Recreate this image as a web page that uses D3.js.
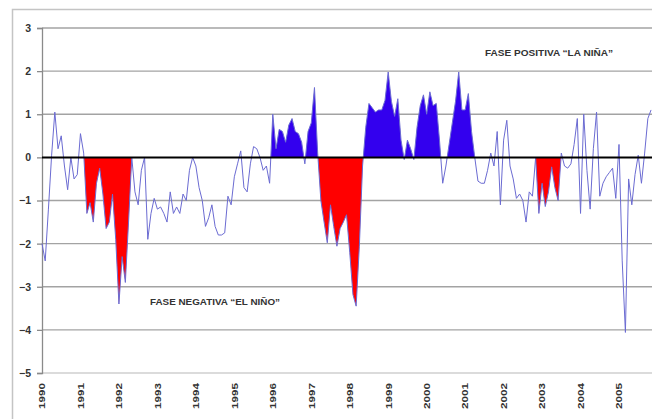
<!DOCTYPE html>
<html>
<head>
<meta charset="utf-8">
<script src="https://cdn.jsdelivr.net/npm/d3@7"></script>
<style>
  html, body { margin: 0; padding: 0; background: #ffffff; }
  svg { display: block; }
</style>
</head>
<body>
<div id="chart"></div>
<script>
// ---- data (monthly index values, Jan 1990 onward) ----
const yearLabels = ["1990","1991","1992","1993","1994","1995","1996","1997","1998","1999","2000","2001","2002","2003","2004","2005"];
const yTicks = [3, 2, 1, 0, -1, -2, -3, -4, -5];
const soi = [
  -2.0,-2.4,-1.2,0.05,1.05,0.2,0.5,-0.2,-0.75,0.0,-0.5,-0.4,
  0.55,0.1,-1.3,-1.05,-1.5,-0.6,-0.25,-0.85,-1.65,-1.5,-0.85,-1.9,
  -3.4,-2.3,-2.9,-1.5,0.0,-0.8,-1.1,-0.3,0.0,-1.9,-1.3,-0.95,
  -1.2,-1.15,-1.3,-1.5,-0.8,-1.3,-1.15,-1.3,-0.85,-1.0,-0.3,0.0,
  -0.2,-0.7,-1.0,-1.6,-1.4,-1.1,-1.6,-1.8,-1.8,-1.75,-0.9,-1.1,
  -0.45,-0.15,0.15,-0.7,-0.8,-0.15,0.25,0.2,0.0,-0.3,-0.2,-0.6,
  1.0,0.2,0.65,0.6,0.35,0.75,0.9,0.6,0.55,0.35,-0.15,0.6,
  0.8,1.62,0.1,-1.0,-1.5,-1.98,-1.1,-1.6,-2.06,-1.65,-1.5,-1.33,
  -2.2,-3.18,-3.45,-2.06,-0.2,0.7,1.25,1.15,1.05,1.1,1.1,1.32,
  1.98,1.3,0.95,1.36,0.4,-0.05,0.4,0.2,-0.05,0.7,1.2,1.45,
  1.0,1.52,1.2,1.25,0.4,-0.6,-0.2,0.3,0.8,1.3,1.98,1.1,
  1.1,1.48,0.6,0.0,-0.55,-0.6,-0.6,-0.3,0.1,-0.2,0.6,-1.1,
  0.4,0.86,-0.2,-0.5,-0.95,-0.85,-1.0,-1.5,-0.8,-0.9,0.0,-1.3,
  -0.6,-1.14,-0.8,-0.22,-0.7,-1.0,0.1,-0.2,-0.25,-0.15,0.3,0.9,
  -1.3,1.0,-0.3,-1.2,0.2,1.05,-0.9,-0.6,-0.45,-0.35,-0.25,-0.95,
  0.3,-2.4,-4.06,-0.5,-1.1,-0.4,0.05,-0.6,0.1,0.9,1.1
];
// shaded episodes, as [start month index, end month index]
const ninoPeriods = [[13, 28], [86, 101], [154, 162]];   // negative phase (red)
const ninaPeriods = [[71, 87], [100, 136]];              // positive phase (blue)
const labelNina = "FASE POSITIVA \u201CLA NIÑA\u201D";
const labelNino = "FASE NEGATIVA \u201CEL NIÑO\u201D";

// ---- layout ----
const W = 652, H = 419;
const svg = d3.select("#chart").append("svg").attr("width", W).attr("height", H);

const x = d3.scaleLinear().domain([0, 180]).range([42, 619]);
const y = d3.scaleLinear().domain([-5, 3]).range([373, 28]);
const plotRight = 652;

// outer frame
svg.append("rect")
  .attr("x", 12.5).attr("y", 9.5).attr("width", 700).attr("height", 450)
  .attr("fill", "#ffffff").attr("stroke", "#c4c4c4").attr("stroke-width", 1.5);

// gridlines
svg.append("g").selectAll("line")
  .data(yTicks.filter(d => d !== 0))
  .join("line")
  .attr("x1", x(0)).attr("x2", plotRight)
  .attr("y1", d => y(d)).attr("y2", d => y(d))
  .attr("stroke", d => d === -5 ? "#cfcfcf" : "#a3a3a3")
  .attr("stroke-width", 1.3);

// y axis
const yAxis = d3.axisLeft(y).tickValues(yTicks).tickSize(5).tickPadding(6).tickFormat(d3.format("d"));
const gy = svg.append("g").attr("transform", `translate(${x(0)},0)`).call(yAxis);
gy.select(".domain").attr("stroke", "#8a8a8a").attr("stroke-width", 1.3);
gy.selectAll(".tick line").attr("stroke", "#8a8a8a").attr("stroke-width", 1.3);
gy.selectAll(".tick text")
  .attr("font-family", "Arial, 'Liberation Sans', sans-serif")
  .attr("font-size", 10.5).attr("font-weight", "bold").attr("fill", "#333");

// interpolation helper for shaded areas
function valueAt(t) {
  const i = Math.floor(t), f = t - i;
  if (i >= soi.length - 1) return soi[soi.length - 1];
  return soi[i] + (soi[i + 1] - soi[i]) * f;
}
function samples(a, b) {
  const pts = [];
  for (let t = a; t <= b + 1e-9; t += 0.02) pts.push(Math.min(t, b));
  return pts;
}
const areaNeg = d3.area().x(t => x(t)).y0(y(0)).y1(t => y(Math.min(0, valueAt(t))));
const areaPos = d3.area().x(t => x(t)).y0(y(0)).y1(t => y(Math.max(0, valueAt(t))));

svg.append("g").selectAll("path")
  .data(ninoPeriods).join("path")
  .attr("d", p => areaNeg(samples(p[0], p[1])))
  .attr("fill", "#ff0000");

svg.append("g").selectAll("path")
  .data(ninaPeriods).join("path")
  .attr("d", p => areaPos(samples(p[0], p[1])))
  .attr("fill", "#3300ee");

// series line
const line = d3.line().x((d, i) => x(i)).y(d => y(d));
svg.append("path")
  .datum(soi)
  .attr("d", line)
  .attr("fill", "none")
  .attr("stroke", "#6b6bd2")
  .attr("stroke-width", 1)
  .attr("stroke-linejoin", "round");

// zero line
svg.append("line")
  .attr("x1", x(0)).attr("x2", plotRight)
  .attr("y1", y(0)).attr("y2", y(0))
  .attr("stroke", "#000").attr("stroke-width", 2);

// x labels (rotated)
svg.append("g").selectAll("text")
  .data(yearLabels).join("text")
  .attr("transform", (d, i) => `translate(${x(i * 12)},383) rotate(-90)`)
  .attr("text-anchor", "end")
  .attr("dy", "0.35em")
  .attr("font-family", "Arial, 'Liberation Sans', sans-serif")
  .attr("font-size", 9.5).attr("font-weight", "bold").attr("fill", "#333")
  .attr("textLength", 26).attr("lengthAdjust", "spacingAndGlyphs")
  .text(d => d);

// annotations
svg.append("text")
  .attr("x", 485).attr("y", 56)
  .attr("font-family", "Arial, 'Liberation Sans', sans-serif")
  .attr("font-size", 8.5).attr("font-weight", "bold").attr("fill", "#333")
  .attr("textLength", 128).attr("lengthAdjust", "spacingAndGlyphs")
  .text(labelNina);
svg.append("text")
  .attr("x", 150).attr("y", 305)
  .attr("font-family", "Arial, 'Liberation Sans', sans-serif")
  .attr("font-size", 8.5).attr("font-weight", "bold").attr("fill", "#333")
  .attr("textLength", 130).attr("lengthAdjust", "spacingAndGlyphs")
  .text(labelNino);
</script>
</body>
</html>
